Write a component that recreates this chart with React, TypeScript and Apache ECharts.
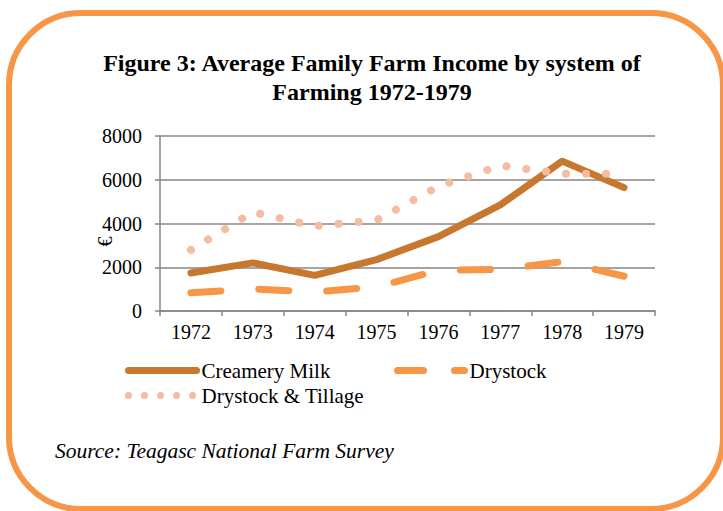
import { useEffect, useRef } from "react";
import * as echarts from "echarts";

// Farm income (€) by farming system, 1972-1979
const years = ["1972", "1973", "1974", "1975", "1976", "1977", "1978", "1979"];
const creameryMilk = [1740, 2200, 1630, 2350, 3400, 4850, 6850, 5640];
const drystock = [830, 1010, 870, 1100, 1860, 1900, 2250, 1590];
const drystockTillage = [2790, 4520, 3880, 4150, 5700, 6650, 6280, 6270];

const yTicks = { min: 0, max: 8000, interval: 2000 };

const FONT = '"Liberation Serif", "Times New Roman", serif';
const MILK = "#C8772F";
const DRY = "#F79646";
const TILL = "#F4BCA0";
const GRID = "#868686";

export default function App() {
  const ref = useRef<HTMLDivElement>(null);

  useEffect(() => {
    if (!ref.current) return;
    const chart = echarts.init(ref.current, undefined, { renderer: "svg" });
    const legendText = { fontSize: 21, fontFamily: FONT, color: "#000" };
    // hide the marker that line-series legend icons draw in the middle
    const noMarker = { opacity: 0 };
    chart.setOption({
      animation: false,
      backgroundColor: "#fff",
      textStyle: { fontFamily: FONT },
      title: {
        text: "Figure 3: Average Family Farm Income by system of\nFarming 1972-1979",
        left: 367,
        top: 43,
        textAlign: "center",
        textStyle: {
          fontFamily: FONT,
          fontSize: 24,
          fontWeight: "bold",
          color: "#000",
          lineHeight: 29,
        },
      },
      grid: { left: 160, right: 68, top: 136, bottom: 200 },
      xAxis: {
        type: "category",
        data: years,
        boundaryGap: true,
        axisLine: { lineStyle: { color: GRID, width: 1.5 } },
        axisTick: { show: true, length: 5, interval: 0, lineStyle: { color: GRID, width: 1.5 } },
        axisLabel: { fontSize: 20, color: "#000", margin: 11, fontFamily: FONT },
        splitLine: { show: false },
      },
      yAxis: {
        type: "value",
        min: yTicks.min,
        max: yTicks.max,
        interval: yTicks.interval,
        name: "€",
        nameLocation: "middle",
        nameRotate: 90,
        nameGap: 45,
        nameMoveOverlap: false,
        nameTextStyle: { fontSize: 20, color: "#000", fontFamily: FONT, padding: [0, 36, 0, 0] },
        axisLine: { show: true, lineStyle: { color: GRID, width: 1.5 } },
        axisTick: { show: true, length: 5, lineStyle: { color: GRID, width: 1.5 } },
        axisLabel: {
          fontSize: 20,
          color: "#000",
          margin: 18,
          fontFamily: FONT,
          formatter: (v: number) => String(v),
        },
        splitLine: { show: true, lineStyle: { color: GRID, width: 1.5 } },
      },
      legend: [
        {
          data: [
            {
              name: "Creamery Milk",
              itemStyle: noMarker,
              lineStyle: { width: 7, type: "solid", cap: "round" },
            },
          ],
          left: 125,
          top: 360,
          padding: 0,
          itemWidth: 68,
          itemHeight: 14,
          textStyle: legendText,
          selectedMode: false,
        },
        {
          data: [
            {
              name: "Drystock",
              itemStyle: noMarker,
              lineStyle: { width: 7, type: [26, 31], cap: "round" },
            },
          ],
          left: 394,
          top: 360,
          padding: 0,
          itemWidth: 67,
          itemHeight: 14,
          textStyle: legendText,
          selectedMode: false,
        },
        {
          data: [
            {
              name: "Drystock & Tillage",
              itemStyle: noMarker,
              lineStyle: { width: 7, type: [0.01, 16], cap: "round" },
            },
          ],
          left: 125,
          top: 385,
          padding: 0,
          itemWidth: 68,
          itemHeight: 14,
          textStyle: legendText,
          selectedMode: false,
        },
      ],
      series: [
        {
          name: "Creamery Milk",
          type: "line",
          data: creameryMilk,
          symbol: "none",
          color: MILK,
          lineStyle: { color: MILK, width: 7, cap: "round", join: "round" },
        },
        {
          name: "Drystock",
          type: "line",
          data: drystock,
          symbol: "none",
          color: DRY,
          lineStyle: { color: DRY, width: 7, type: [30, 38], cap: "round", join: "round" },
        },
        {
          name: "Drystock & Tillage",
          type: "line",
          data: drystockTillage,
          symbol: "none",
          color: TILL,
          lineStyle: { color: TILL, width: 8, type: [0.01, 20], cap: "round", join: "round" },
        },
      ],
      graphic: [
        {
          type: "rect",
          shape: { x: 9, y: 13, width: 714, height: 496, r: 72 },
          style: { fill: "none", stroke: DRY, lineWidth: 6 },
          z: 10,
        },
        {
          type: "text",
          left: 55,
          top: 440,
          style: {
            text: "Source: Teagasc National Farm Survey",
            font: `italic 21.5px ${FONT}`,
            fill: "#000",
          },
        },
      ],
    });
    return () => chart.dispose();
  }, []);

  return (
    <div
      ref={ref}
      style={{ position: "fixed", left: 0, top: 0, width: 723, height: 511 }}
    />
  );
}
